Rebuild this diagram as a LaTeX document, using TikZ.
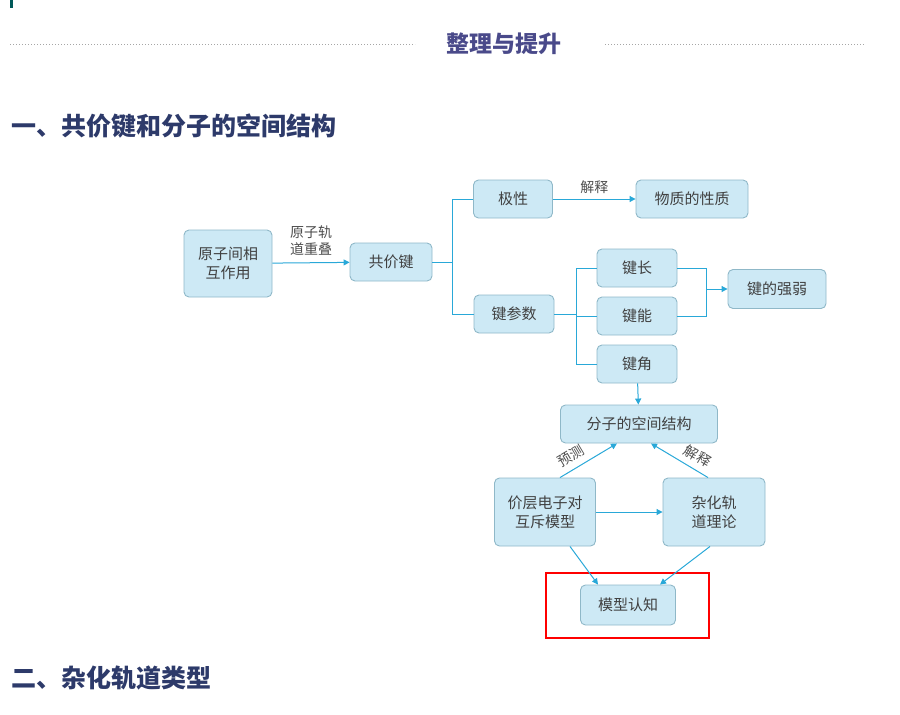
\documentclass[tikz,border=0pt]{standalone}
\usepackage{fontspec}
\setmainfont{Noto Sans CJK SC}
\usetikzlibrary{arrows.meta}
\definecolor{boxfill}{HTML}{CDE9F5}
\definecolor{boxline}{HTML}{8FB8C8}
\definecolor{conn}{HTML}{29A8D8}
\definecolor{headc}{HTML}{4A4A8A}
\definecolor{titc}{HTML}{2D3A6A}
\tikzset{
 box/.style={draw=boxline,fill=boxfill,rounded corners=5pt,line width=0.9pt,inner sep=0pt,font=\fontsize{15}{19}\selectfont,text=black!75,align=center},
 ln/.style={draw=conn,line width=1pt},
 ar/.style={ln,-{Triangle[length=6pt,width=6pt]}},
 lab/.style={font=\fontsize{14}{17}\selectfont,text=black!70,align=center},
}
\begin{document}
\begin{tikzpicture}[x=1pt,y=-1pt]
\useasboundingbox (0,0) rectangle (900,715);
\fill[teal!70!black] (10,0) rectangle (13,8);
\node[font=\fontsize{23}{26}\selectfont\bfseries,text=headc] (hd) at (504,44) {整理与提升};
\draw[black!35,line width=1pt,dotted] (10,44) -- (415,44);
\draw[black!35,line width=1pt,dotted] (605,44) -- (865,44);
\node[anchor=west,font=\fontsize{25}{28}\selectfont\bfseries,text=titc] (t1) at (8,126) {一、共价键和分子的空间结构};
\node[anchor=west,font=\fontsize{25}{28}\selectfont\bfseries,text=titc] (t2) at (8,678) {二、杂化轨道类型};

\node[box,minimum width=88pt,minimum height=67pt] (a) at (228,263.5) {原子间相\\互作用};
\node[box,minimum width=82pt,minimum height=38pt] (b) at (391,262) {共价键};
\node[box,minimum width=79pt,minimum height=38pt] (c) at (513,199) {极性};
\node[box,minimum width=112pt,minimum height=38pt] (d) at (692,199) {物质的性质};
\node[box,minimum width=80pt,minimum height=38pt] (e) at (514,314) {键参数};
\node[box,minimum width=80pt,minimum height=38pt] (f) at (637,268) {键长};
\node[box,minimum width=80pt,minimum height=38pt] (g) at (637,316) {键能};
\node[box,minimum width=80pt,minimum height=38pt] (h) at (637,364) {键角};
\node[box,minimum width=98pt,minimum height=39pt] (i) at (777,289) {键的强弱};
\node[box,minimum width=157pt,minimum height=38pt] (j) at (639,424) {分子的空间结构};
\node[box,minimum width=101pt,minimum height=68pt] (k) at (545,512) {价层电子对\\互斥模型};
\node[box,minimum width=102pt,minimum height=68pt] (l) at (714,512) {杂化轨\\道理论};
\node[box,minimum width=95pt,minimum height=40pt] (m) at (628,605) {模型认知};
\node[draw=red,line width=2pt,minimum width=163pt,minimum height=65pt] (rb) at (627.5,605.5) {};

\draw[ar] (a) -- (b) node[lab,midway,above=3pt] {原子轨\\道重叠};
\coordinate (br) at (452,262);
\draw[ln] (b.east) -- (br);
\draw[ln] (br) |- (c.west);
\draw[ln] (br) |- (e.west);
\draw[ar] (c) -- (d) node[lab,midway,above=2pt] {解释};
\coordinate (br2) at (576,314);
\draw[ln] (e.east) -- (br2);
\draw[ln] (br2) |- (f.west);
\draw[ln] (br2) |- (h.west);
\draw[ln] (br2) |- (g.west);
\coordinate (br3) at (706,289);
\draw[ln] (f.east) -| (br3);
\draw[ln] (g.east) -| (br3);
\draw[ar] (br3) -- (i.west);
\draw[ar] (h) -- (j);
\draw[ar] ([xshift=15pt]k.north) -- ([xshift=-22pt]j.south) node[lab,pos=0.3,sloped,above=3pt] {预测};
\draw[ar] ([xshift=-6pt]l.north) -- ([xshift=12pt]j.south) node[lab,pos=0.3,sloped,above=3pt] {解释};
\draw[ar] (k) -- (l);
\draw[ar] ([xshift=25pt]k.south) -- ([xshift=-30pt]m.north);
\draw[ar] ([xshift=-4pt]l.south) -- ([xshift=32pt]m.north);
\end{tikzpicture}
\end{document}
